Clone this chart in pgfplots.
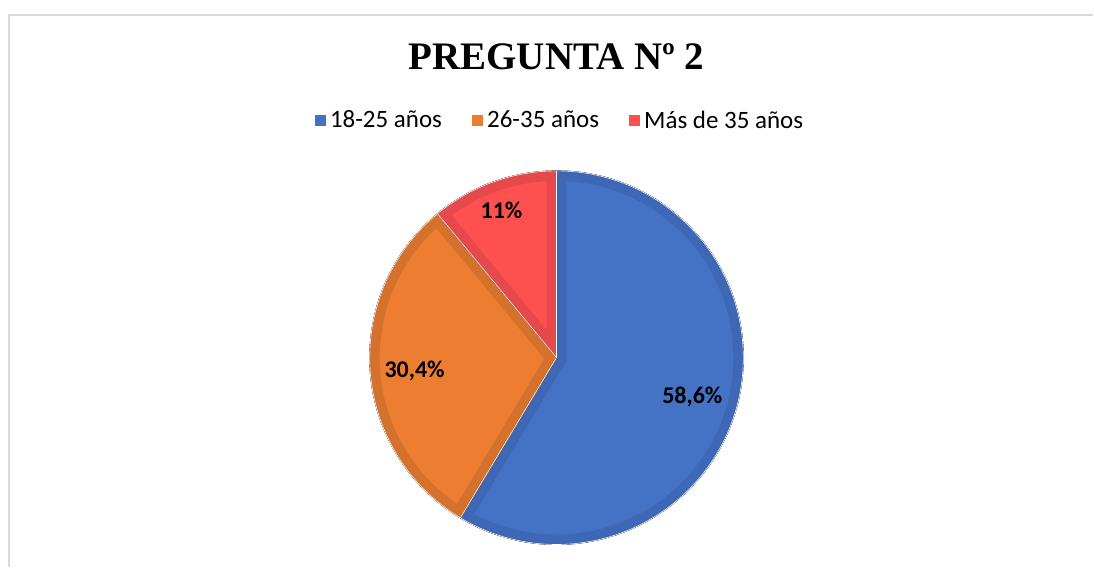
\documentclass[border=0pt]{standalone}
\usepackage{fontspec}
\setmainfont{Carlito}
\newfontfamily\titlefont{Liberation Serif}
\usepackage{pgfplots}
\pgfplotsset{compat=1.18}

\definecolor{bluefill}{HTML}{4472C4}
\definecolor{blueedge}{HTML}{3E67B6}
\definecolor{orangefill}{HTML}{ED7D31}
\definecolor{orangeedge}{HTML}{D4712C}
\definecolor{redfill}{HTML}{FF5050}
\definecolor{rededge}{HTML}{E5494B}
\definecolor{frame}{HTML}{D9D9D9}

% slices: centre in pixel coords, start/end angle (clockwise from 12 o'clock)
\pgfplotstableread{
x   y   a      b       pct
557 210 90     -120.96 58.6
}\sliceA
\pgfplotstableread{
x   y   a      b       pct
557 210 239.04 129.6   30.4
}\sliceB
\pgfplotstableread{
x   y   a      b       pct
557 210 129.6  90      11
}\sliceC

\newcommand\piewedge{(0,0) -- (\wa:93.5pt) arc[start angle=\wa, end angle=\wb, radius=93.5pt] -- cycle}

\pgfplotsset{
  pieslice/.style 2 args={
    scatter, only marks, mark=text, text mark={}, forget plot,
    visualization depends on={\thisrow{a} \as \wa},
    visualization depends on={\thisrow{b} \as \wb},
    scatter/@pre marker code/.code={
      \fill[#1] \piewedge;
      \begin{scope}
        \clip \piewedge;
        \draw[#2, line width=10pt, line join=miter] \piewedge;
      \end{scope}
      \draw[white, line width=0.3pt] \piewedge;
    },
    scatter/@post marker code/.code={},
  },
}

\begin{document}
\begin{tikzpicture}
\begin{axis}[
  width=547pt, height=284pt, scale only axis,
  xmin=0, xmax=1094, ymin=0, ymax=568,
  axis lines=none, clip=false,
  legend style={at={(axis cs:561.5,447)}, anchor=center, draw=none, fill=none,
    legend columns=-1, font=\fontsize{12.5}{15}\selectfont,
    /tikz/every even column/.append style={column sep=13pt}},
  legend image code/.code={\fill[#1] (0pt,-2.8pt) rectangle (5.6pt,2.8pt);},
]
  \path[fill=white] (rel axis cs:0,0) rectangle (rel axis cs:1,1);
  \draw[frame, line width=1pt] (axis cs:9.5,0) -- (axis cs:9.5,552.5) -- (axis cs:1094,552.5);

  \addplot[pieslice={bluefill}{blueedge}] table[x=x, y=y] {\sliceA};
  \addplot[pieslice={orangefill}{orangeedge}] table[x=x, y=y] {\sliceB};
  \addplot[pieslice={redfill}{rededge}] table[x=x, y=y] {\sliceC};

  \addlegendimage{draw=none, fill=bluefill}
  \addlegendentry{18-25 años}
  \addlegendimage{draw=none, fill=orangefill}
  \addlegendentry{26-35 años}
  \addlegendimage{draw=none, fill=redfill}
  \addlegendentry{Más de 35 años}

  \coordinate (ttl) at (axis cs:557,498);
  \coordinate (lA) at (axis cs:693,171);
  \coordinate (lB) at (axis cs:415,197);
  \coordinate (lC) at (axis cs:502,357);
\end{axis}
\node[anchor=base, font=\titlefont\bfseries\fontsize{19.5}{22}\selectfont] at (ttl) {PREGUNTA Nº 2};
\node[font=\bfseries\fontsize{12}{14}\selectfont] at (lA) {58,6\%};
\node[font=\bfseries\fontsize{12}{14}\selectfont] at (lB) {30,4\%};
\node[font=\bfseries\fontsize{12}{14}\selectfont] at (lC) {11\%};
\end{tikzpicture}
\end{document}
